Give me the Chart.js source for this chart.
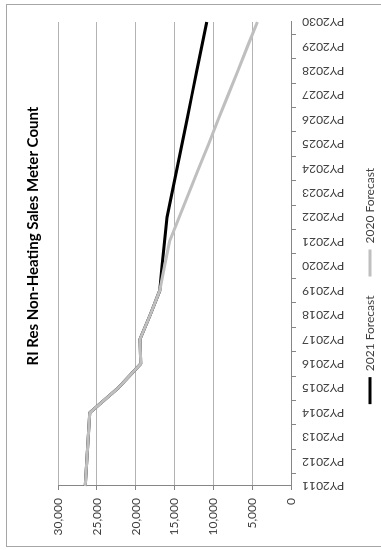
<!DOCTYPE html>
<html>
<head>
<meta charset="utf-8">
<title>RI Res Non-Heating Sales Meter Count</title>
<script src="https://cdn.jsdelivr.net/npm/chart.js@4.4.1/dist/chart.umd.min.js"></script>
<style>
  html, body { margin: 0; padding: 0; background: #fff; overflow: hidden; }
  /* chart is laid out landscape, then turned a quarter turn to the left */
  #wrap {
    position: absolute; left: 0; top: 0;
    width: 550px; height: 381px;
    transform-origin: 0 0;
    transform: translate(0, 550px) rotate(-90deg);
  }
</style>
</head>
<body>
<div id="wrap"><canvas id="meterChart" width="550" height="381"></canvas></div>
<script>
const years = ['PY2011', 'PY2012', 'PY2013', 'PY2014', 'PY2015', 'PY2016', 'PY2017',
    'PY2018', 'PY2019', 'PY2020', 'PY2021', 'PY2022', 'PY2023', 'PY2024', 'PY2025',
    'PY2026', 'PY2027', 'PY2028', 'PY2029', 'PY2030'];
const forecast2021 = [26500, 26300, 26100, 25900, 22300, 19350, 19450, 18150, 16900, 16600,
    16280, 15960, 15320, 14680, 14040, 13400, 12760, 12130, 11490, 10850];
const forecast2020 = [26500, 26300, 26100, 25900, 22300, 19350, 19450, 18150, 16900, 16300,
    15650, 14400, 13140, 11880, 10620, 9370, 8110, 6850, 5600, 4340];
const valueTicks = [0, 5000, 10000, 15000, 20000, 25000, 30000];

const axisColor = '#868686';
const gridColor = '#b3b3b3';
const textColor = '#404040';

Chart.defaults.font.family = 'Lato, "Open Sans", sans-serif';
Chart.defaults.font.size = 12;
Chart.defaults.color = textColor;

// white page + the thin outer frame of the chart box
const framePlugin = {
    id: 'frame',
    beforeDraw(chart) {
        const ctx = chart.ctx;
        ctx.save();
        ctx.fillStyle = '#fff';
        ctx.fillRect(0, 0, chart.width, chart.height);
        ctx.strokeStyle = '#a6a6a6';
        ctx.lineWidth = 1;
        ctx.strokeRect(3.5, 6.5, 542, 390);
        ctx.restore();
    },
    // title in the original sits off-centre, nearer the later years
    afterLayout(chart) {
        if (chart.titleBlock) chart.titleBlock.left += 100;
    }
};

var ctx = document.getElementById('meterChart').getContext('2d');
var myChart = new Chart(ctx, {
    type: 'line',
    data: {
        labels: years,
        datasets: [{
            label: '2021 Forecast',
            data: forecast2021,
            borderColor: '#000000',
            backgroundColor: '#000000',
            borderWidth: 3,
            order: 1
        }, {
            label: '2020 Forecast',
            data: forecast2020,
            borderColor: '#bfbfbf',
            backgroundColor: '#bfbfbf',
            borderWidth: 3,
            order: 0   // grey drawn on top of black
        }]
    },
    options: {
        responsive: false,
        animation: false,
        devicePixelRatio: 1,
        layout: { padding: { left: 0, right: 22, top: 0, bottom: 0 } },
        elements: {
            point: { radius: 0, hoverRadius: 0 },
            line: { tension: 0, fill: false, borderJoinStyle: 'round' }
        },
        scales: {
            x: {
                grid: {
                    offset: true,
                    drawOnChartArea: false,
                    tickLength: 5,
                    tickColor: axisColor
                },
                border: { display: true, color: axisColor },
                ticks: {
                    autoSkip: false,
                    minRotation: 90,
                    maxRotation: 90,
                    padding: 6,
                    font: { size: 12 }
                },
                afterFit: s => { s.height = 54; }
            },
            y: {
                min: 0,
                max: 30000,
                grid: { color: gridColor, tickLength: 4, tickColor: axisColor },
                border: { display: true, color: axisColor },
                ticks: {
                    padding: 8,
                    font: { size: 12 },
                    callback: v => v.toLocaleString('en-US')
                },
                afterBuildTicks: s => { s.ticks = valueTicks.map(v => ({ value: v })); },
                afterFit: s => { s.width = 64; }
            }
        },
        plugins: {
            title: {
                display: true,
                text: 'RI Res Non-Heating Sales Meter Count',
                color: '#000',
                font: { size: 15, weight: 'bold' },
                padding: { top: 24, bottom: 16 }
            },
            legend: {
                position: 'bottom',
                maxHeight: 36,
                labels: {
                    boxWidth: 27,
                    boxHeight: 3,
                    padding: 19,
                    font: { size: 12 },
                    sort: (a, b) => a.datasetIndex - b.datasetIndex,
                    generateLabels: chart => Chart.defaults.plugins.legend.labels.generateLabels(chart)
                        .map(l => Object.assign(l, { lineWidth: 0 }))
                }
            },
            tooltip: { enabled: false }
        }
    },
    plugins: [framePlugin]
});
</script>
</body>
</html>
